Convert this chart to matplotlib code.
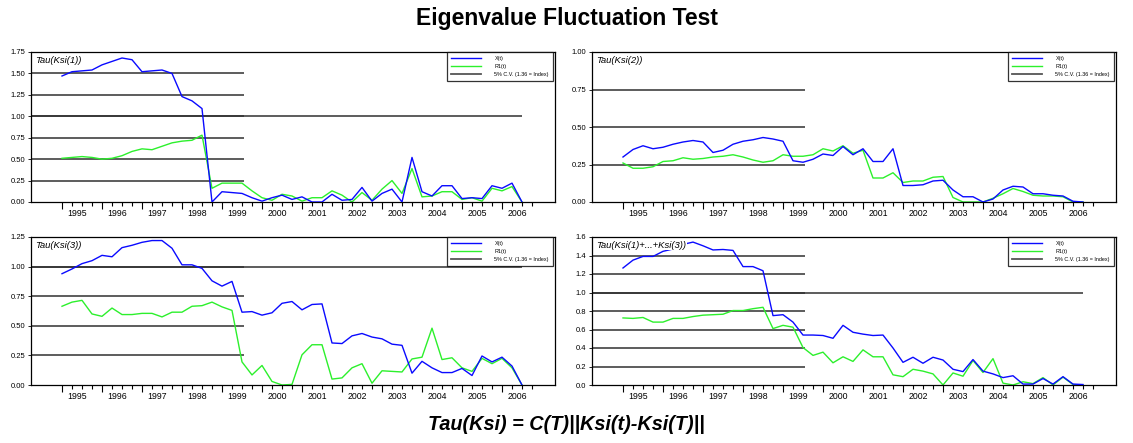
import matplotlib
matplotlib.use("Agg")
import matplotlib.pyplot as plt
import numpy as np

plt.rcParams['font.family'] = ['Liberation Sans', 'DejaVu Sans']

# Quarterly observations 1995Q1 .. 2006Q3
years = list(range(1995, 2007))
n_obs = 47

x1_blue = [1.47, 1.52, 1.53, 1.54, 1.60, 1.64, 1.68, 1.66, 1.52, 1.53, 1.54, 1.50, 1.23, 1.18, 1.09,
           0.00, 0.12, 0.11, 0.10, 0.05, 0.01, 0.05, 0.08, 0.03, 0.06, 0.00, 0.00, 0.09, 0.02, 0.03,
           0.17, 0.01, 0.10, 0.15, 0.00, 0.52, 0.12, 0.07, 0.19, 0.19, 0.04, 0.05, 0.04, 0.19, 0.16,
           0.22, 0.00]
x1_green = [0.51, 0.52, 0.53, 0.52, 0.50, 0.51, 0.54, 0.59, 0.62, 0.61, 0.65, 0.69, 0.71, 0.72, 0.78,
            0.16, 0.22, 0.22, 0.22, 0.13, 0.05, 0.02, 0.09, 0.07, 0.01, 0.05, 0.05, 0.13, 0.08, 0.00,
            0.11, 0.02, 0.15, 0.25, 0.10, 0.39, 0.06, 0.07, 0.12, 0.12, 0.03, 0.05, 0.01, 0.16, 0.13,
            0.18, 0.00]

x2_blue = [0.30, 0.35, 0.375, 0.355, 0.365, 0.385, 0.40, 0.41, 0.40, 0.33, 0.345, 0.385, 0.405, 0.415,
           0.43, 0.42, 0.405, 0.275, 0.265, 0.285, 0.32, 0.31, 0.37, 0.315, 0.355, 0.27, 0.27, 0.355,
           0.11, 0.11, 0.115, 0.14, 0.145, 0.08, 0.035, 0.035, 0.00, 0.02, 0.08, 0.105, 0.10, 0.055,
           0.055, 0.045, 0.04, 0.005, 0.00]
x2_green = [0.26, 0.225, 0.225, 0.235, 0.27, 0.275, 0.295, 0.285, 0.29, 0.30, 0.305, 0.315, 0.30, 0.28,
            0.265, 0.275, 0.315, 0.305, 0.305, 0.315, 0.355, 0.34, 0.375, 0.325, 0.345, 0.16, 0.16,
            0.195, 0.13, 0.14, 0.14, 0.165, 0.17, 0.03, 0.00, 0.00, 0.00, 0.025, 0.055, 0.09, 0.07,
            0.045, 0.04, 0.04, 0.035, 0.00, 0.00]

x3_blue = [0.94, 0.98, 1.025, 1.05, 1.095, 1.083, 1.16, 1.18, 1.205, 1.22, 1.22, 1.155, 1.015, 1.015,
           0.985, 0.88, 0.835, 0.875, 0.615, 0.62, 0.59, 0.61, 0.69, 0.705, 0.635, 0.68, 0.685, 0.355,
           0.35, 0.415, 0.435, 0.405, 0.39, 0.345, 0.335, 0.10, 0.20, 0.145, 0.105, 0.105, 0.14, 0.08,
           0.245, 0.195, 0.235, 0.16, 0.00]
x3_green = [0.665, 0.70, 0.715, 0.60, 0.58, 0.65, 0.595, 0.595, 0.605, 0.605, 0.575, 0.615, 0.615, 0.665,
            0.67, 0.70, 0.66, 0.63, 0.195, 0.085, 0.165, 0.03, 0.00, 0.005, 0.255, 0.34, 0.34, 0.05,
            0.06, 0.145, 0.18, 0.015, 0.12, 0.115, 0.11, 0.22, 0.235, 0.48, 0.215, 0.23, 0.145, 0.115,
            0.225, 0.18, 0.225, 0.145, 0.00]

x4_blue = [1.265, 1.35, 1.39, 1.39, 1.445, 1.47, 1.52, 1.545, 1.505, 1.46, 1.465, 1.455, 1.28, 1.28,
           1.235, 0.75, 0.76, 0.68, 0.54, 0.54, 0.535, 0.505, 0.645, 0.57, 0.55, 0.535, 0.54, 0.40,
           0.245, 0.30, 0.235, 0.30, 0.27, 0.17, 0.145, 0.275, 0.15, 0.12, 0.08, 0.10, 0.01, 0.01,
           0.07, 0.01, 0.09, 0.01, 0.005]
x4_green = [0.725, 0.72, 0.73, 0.68, 0.68, 0.72, 0.72, 0.74, 0.755, 0.76, 0.765, 0.805, 0.805, 0.825,
            0.84, 0.61, 0.645, 0.625, 0.405, 0.32, 0.355, 0.24, 0.305, 0.255, 0.38, 0.305, 0.305, 0.11,
            0.09, 0.17, 0.15, 0.12, 0.00, 0.13, 0.095, 0.265, 0.135, 0.285, 0.02, 0.00, 0.035, 0.015,
            0.08, 0.00, 0.085, 0.005, 0.00]

panel_titles = ["Tau(Ksi(1))", "Tau(Ksi(2))", "Tau(Ksi(3))", "Tau(Ksi(1)+...+Ksi(3))"]
panel_blue = [x1_blue, x2_blue, x3_blue, x4_blue]
panel_green = [x1_green, x2_green, x3_green, x4_green]
panel_ymax = [1.75, 1.00, 1.25, 1.6]
panel_ystep = [0.25, 0.25, 0.25, 0.2]
panel_fmt = ["%.2f", "%.2f", "%.2f", "%.1f"]
legend_labels = ["X(t)", "R1(t)", "5% C.V. (1.36 = Index)"]
cv_level = 1.0

BLUE = "#0a0aff"
GREEN = "#2cf02c"
GRID = "#303030"

fig = plt.figure(figsize=(11.33, 4.43), dpi=100)
W, H = 1133, 443
positions = [
    (31, 52, 524, 150),
    (592, 52, 524, 150),
    (31, 237, 524, 148),
    (592, 237, 524, 148),
]

xlim = (-3.1, 49.3)
grid_end = 18.2

for k, (l, t, w, h) in enumerate(positions):
    ax = fig.add_axes([l / W, 1 - (t + h) / H, w / W, h / H])
    x = np.arange(n_obs)
    ymax = panel_ymax[k]
    step = panel_ystep[k]
    yt = np.round(np.arange(0, ymax + step / 2, step), 3)
    ax.set_xlim(*xlim)
    ax.set_ylim(0, ymax)

    # short reference lines up to ~1999Q2
    for yv in yt[1:]:
        if yv < ymax - 1e-9:
            ax.hlines(yv, xlim[0], grid_end, color=GRID, lw=1.1, zorder=1)
    if cv_level < ymax - 1e-9:
        ax.hlines(cv_level, xlim[0], n_obs - 1, color=GRID, lw=1.1, zorder=1)

    ax.plot(x, panel_blue[k], color=BLUE, lw=1.0, zorder=3)
    ax.plot(x, panel_green[k], color=GREEN, lw=1.0, zorder=2)

    ax.set_yticks(yt)
    ax.set_yticklabels([panel_fmt[k] % v for v in yt], fontsize=5.5)
    ax.tick_params(axis='y', length=2, width=0.6, pad=2)

    q1 = np.arange(0, n_obs + 1, 4)
    allq = np.arange(0, n_obs + 1)
    ax.set_xticks(q1)
    ax.set_xticklabels([])
    ax.set_xticks([q for q in allq if q % 4 != 0], minor=True)
    ax.tick_params(axis='x', which='major', length=5, width=0.8, direction='out')
    ax.tick_params(axis='x', which='minor', length=3, width=0.8, direction='out')

    sec = ax.secondary_xaxis('bottom')
    sec.set_xticks([4 * i + 1.5 for i in range(len(years))])
    sec.set_xticklabels([str(y) for y in years], fontsize=6.3)
    sec.tick_params(length=0, pad=5)
    sec.spines['bottom'].set_visible(False)

    for s in ax.spines.values():
        s.set_linewidth(0.9)

    ax.text(0.008, 0.975, panel_titles[k], transform=ax.transAxes, fontsize=6.8,
            style='italic', va='top', ha='left', zorder=5,
            bbox=dict(facecolor='white', edgecolor='none', pad=0.5))

    h1, = ax.plot([], [], color=BLUE, lw=1.0)
    h2, = ax.plot([], [], color=GREEN, lw=1.0)
    h3, = ax.plot([], [], color='#555555', lw=1.3)
    leg = ax.legend([h1, h2, h3], legend_labels, loc='upper right',
                    bbox_to_anchor=(1 - 2 / w, 1.0), borderaxespad=0,
                    fontsize=3.9, handlelength=5.5, handletextpad=2.5,
                    labelspacing=0.55, borderpad=0.75, frameon=True, fancybox=False)
    leg.get_frame().set_edgecolor('black')
    leg.get_frame().set_linewidth(0.9)

fig.text(0.5, 1 - 18 / H, "Eigenvalue Fluctuation Test", ha='center', va='center',
         fontsize=16.5, fontweight='bold')
fig.text(0.5, 1 - 424 / H, "Tau(Ksi) = C(T)||Ksi(t)-Ksi(T)||", ha='center', va='center',
         fontsize=14.3, fontweight='bold', style='italic')

fig.savefig("out.png", dpi=100)
